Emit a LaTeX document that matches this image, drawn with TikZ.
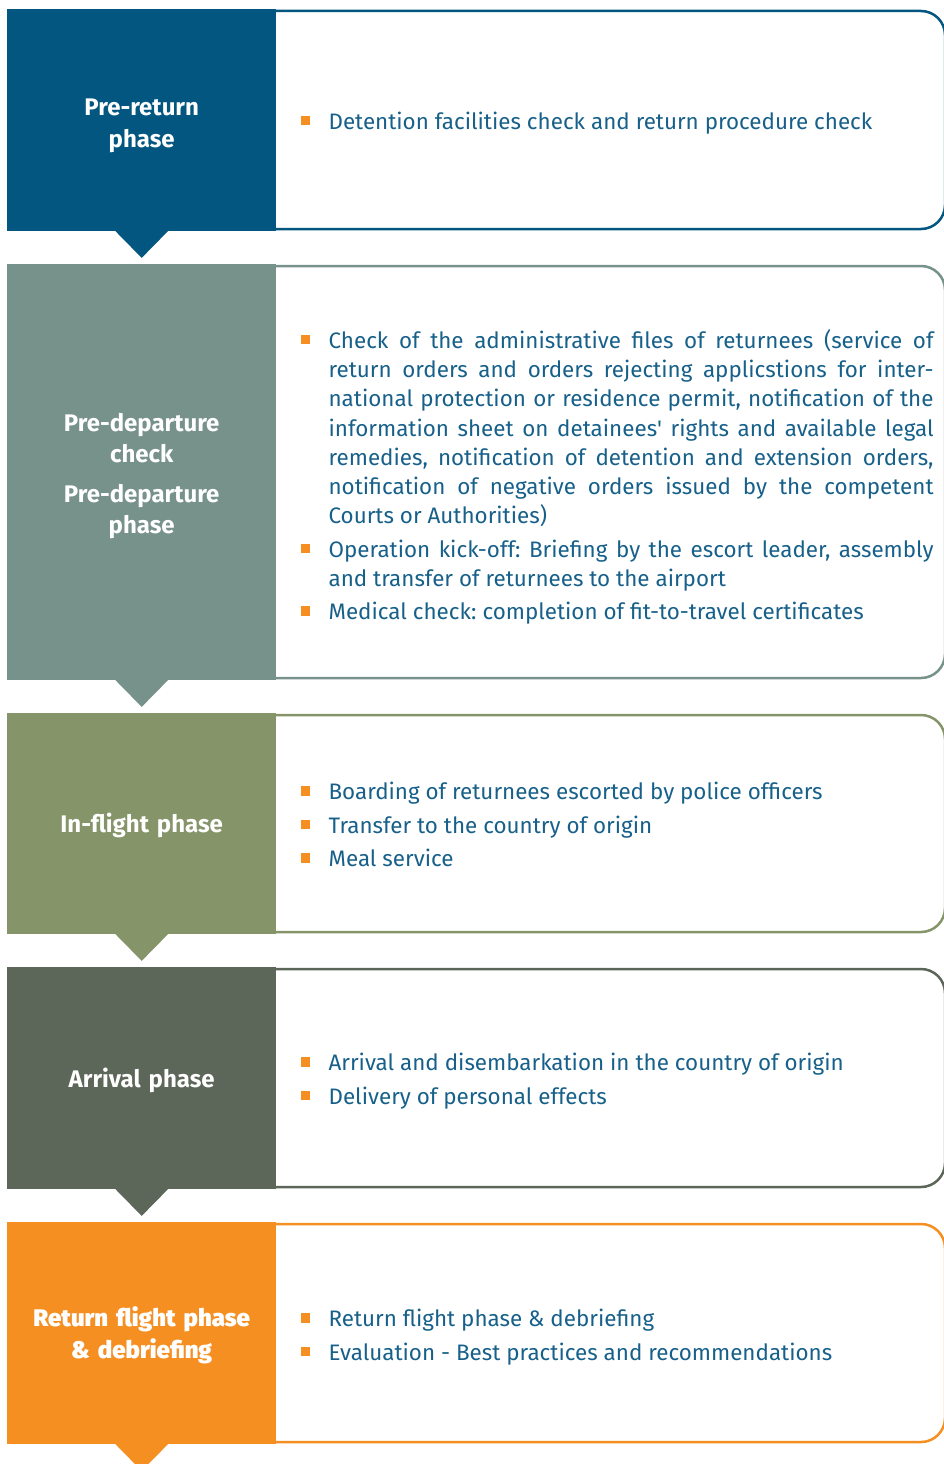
\documentclass[tikz,border=0pt]{standalone}
\usepackage{fontspec}
\setmainfont{Fira Sans}
\newfontfamily\heavyfont{Fira Sans ExtraBold}
\usetikzlibrary{positioning}

\definecolor{navyband}{HTML}{02567F}
\definecolor{slateband}{HTML}{77918B}
\definecolor{oliveband}{HTML}{86946A}
\definecolor{mossband}{HTML}{5C6659}
\definecolor{orangeband}{HTML}{F58F22}
\definecolor{bodyblue}{HTML}{17608A}

% orange square bullet used in every step list
\newcommand{\sqbullet}{\textcolor{orangeband}{\rule[4pt]{9.5pt}{9.5pt}}}
\newenvironment{steplist}{%
  \begin{list}{\sqbullet}{%
    \setlength\leftmargin{28pt}\setlength\labelwidth{9.5pt}%
    \setlength\labelsep{18.5pt}\setlength\itemsep{4pt}%
    \setlength\topsep{0pt}\setlength\partopsep{0pt}\setlength\parsep{0pt}}}%
  {\end{list}}

\tikzset{
  phase/.style={fill=#1, anchor=north west, inner sep=0pt, minimum width=269pt},
  % the white caption sits a little below the middle of its block
  caption/.style={text=white, inner sep=0pt, text width=262pt, align=center,
    yshift=-#1, font=\fontsize{24}{31.5}\selectfont\bfseries},
  stepbody/.style={anchor=west, inner sep=0pt, text width=633pt, align=justify,
    text=bodyblue, font=\fontsize{22.4}{29.3}\selectfont\frenchspacing},
  rim/.style={draw=#1, line width=2.5pt, rounded corners=24pt},
  pointer/.style={fill=#1},
}

\begin{document}
\begin{tikzpicture}[x=1pt, y=-1pt]
\useasboundingbox (0,0) rectangle (944,1464);

% step 1
\node[phase=navyband, minimum height=222pt,
  label={[caption=5.5pt]center:{Pre-return\\phase}}] (pre) at (7,9) {};
\draw[rim=navyband] (276,11) -- (945,11) -- (945,229) -- (276,229);
\node[stepbody, right=24pt of pre.east, yshift=3pt] (pre-list) {\begin{steplist}
  \item Detention facilities check and return procedure check
\end{steplist}};
\fill[pointer=navyband] ([xshift=-26.5pt,yshift=0.5pt]pre.south) -- ++(26.5,27) -- ++(26.5,-27) -- cycle;

% step 2
\node[phase=slateband, minimum height=416pt,
  label={[caption=4pt]center:{Pre-departure\\check\\[8pt]Pre-departure\\phase}}] (dep) at (7,264) {};
\draw[rim=slateband] (276,266) -- (945,266) -- (945,678) -- (276,678);
\node[stepbody, right=24pt of dep.east, yshift=0.5pt] (dep-list) {\begin{steplist}
  \item Check of the administrative files of returnees (service of\linebreak
  return orders and orders rejecting applicstions for inter-\linebreak
  national protection or residence permit, notification of the\linebreak
  information sheet on detainees\textquotesingle\ rights and available legal\linebreak
  remedies, notification of detention and extension orders,\linebreak
  notification of negative orders issued by the competent\linebreak
  Courts or Authorities)
  \item Operation kick-off: Briefing by the escort leader, assembly\linebreak
  and transfer of returnees to the airport
  \item Medical check: completion of fit-to-travel certificates
\end{steplist}};
\fill[pointer=slateband] ([xshift=-26.5pt,yshift=0.5pt]dep.south) -- ++(26.5,27) -- ++(26.5,-27) -- cycle;

% step 3
\node[phase=oliveband, minimum height=221pt,
  label={[caption=2pt]center:In-flight phase}] (flight) at (7,713) {};
\draw[rim=oliveband] (276,715) -- (945,715) -- (945,932) -- (276,932);
\node[stepbody, right=24pt of flight.east, yshift=5pt] (flight-list) {\begin{steplist}
  \item Boarding of returnees escorted by police officers
  \item Transfer to the country of origin
  \item Meal service
\end{steplist}};
\fill[pointer=oliveband] ([xshift=-26.5pt,yshift=0.5pt]flight.south) -- ++(26.5,27) -- ++(26.5,-27) -- cycle;

% step 4
\node[phase=mossband, minimum height=222pt,
  label={[caption=2pt]center:Arrival phase}] (arr) at (7,967) {};
\draw[rim=mossband] (276,969) -- (945,969) -- (945,1187) -- (276,1187);
\node[stepbody, right=24pt of arr.east, yshift=3pt] (arr-list) {\begin{steplist}
  \item Arrival and disembarkation in the country of origin
  \item Delivery of personal effects
\end{steplist}};
\fill[pointer=mossband] ([xshift=-26.5pt,yshift=0.5pt]arr.south) -- ++(26.5,27) -- ++(26.5,-27) -- cycle;

% step 5
\node[phase=orangeband, minimum height=222pt,
  label={[caption=2pt]center:{\heavyfont Return flight phase\\\& debriefing}}] (ret) at (7,1222) {};
\draw[rim=orangeband] (276,1224) -- (945,1224) -- (945,1442) -- (276,1442);
\node[stepbody, right=24pt of ret.east, yshift=2pt] (ret-list) {\begin{steplist}
  \item Return flight phase \& debriefing
  \item Evaluation - Best practices and recommendations
\end{steplist}};
\fill[pointer=orangeband] ([xshift=-26.5pt,yshift=0.5pt]ret.south) -- ++(26.5,27) -- ++(26.5,-27) -- cycle;
\end{tikzpicture}
\end{document}
